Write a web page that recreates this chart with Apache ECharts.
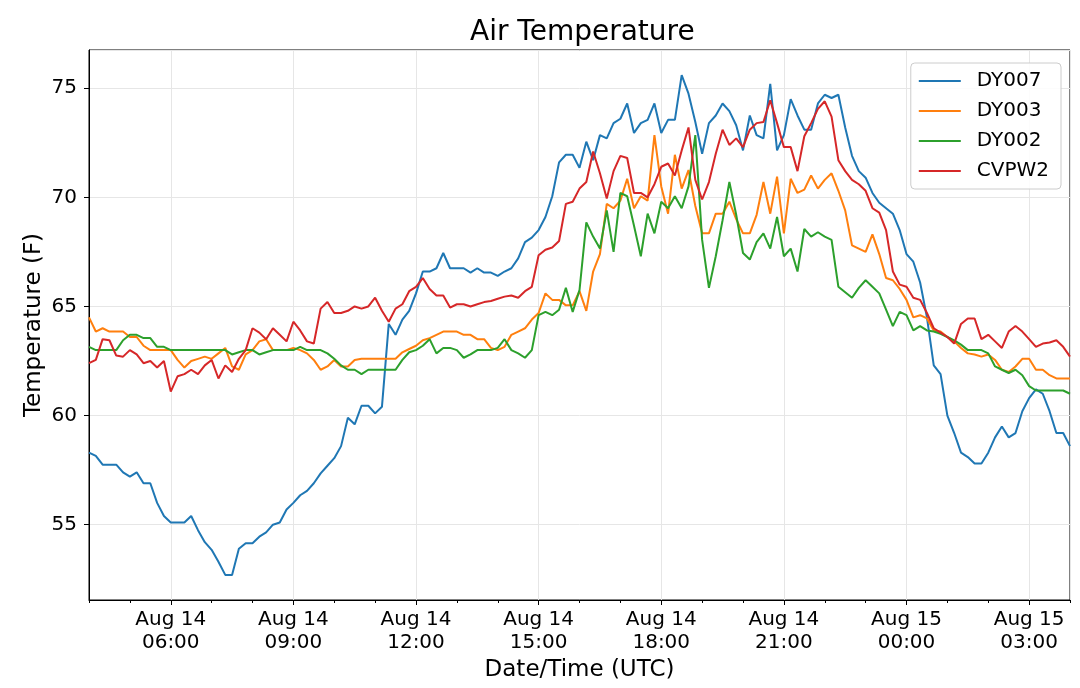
<!DOCTYPE html>
<html>

<head>
    <meta charset="utf-8">
    <title>Air Temperature</title>
    <script src="https://cdn.jsdelivr.net/npm/echarts/dist/echarts.min.js"></script>
    <style>
        html,
        body {
            margin: 0;
            padding: 0;
            background: #fff;
        }

        #main {
            width: 1080px;
            height: 688px;
        }
    </style>
</head>

<body>
    <div id="main"></div>
</body>
<script type="text/javascript">
    // 10 minute readings, Aug 14 04:00 UTC -> Aug 15 04:00 UTC
    var startHour = 4;
    var stepHours = 1 / 6;

    var stations = ['DY007', 'DY003', 'DY002', 'CVPW2'];
    var colors = ['#1f77b4', '#ff7f0e', '#2ca02c', '#d62728'];

    var dy007 = [
        58.3, 58.15, 57.75, 57.75, 57.75, 57.4, 57.2, 57.4, 56.9, 56.9, 56.0, 55.4,
        55.1, 55.1, 55.1, 55.4, 54.75, 54.2, 53.85, 53.3, 52.7, 52.7, 53.9, 54.15,
        54.15, 54.45, 54.65, 55.0, 55.1, 55.7, 56.0, 56.35, 56.55, 56.9, 57.35, 57.7,
        58.05, 58.6, 59.9, 59.6, 60.45, 60.45, 60.1, 60.4, 64.2, 63.7, 64.4, 64.8,
        65.6, 66.6, 66.6, 66.75, 67.45, 66.75, 66.75, 66.75, 66.55, 66.75, 66.55, 66.55,
        66.4, 66.6, 66.75, 67.2, 67.95, 68.15, 68.5, 69.1, 70.05, 71.6, 71.95, 71.95,
        71.35, 72.55, 71.7, 72.85, 72.7, 73.4, 73.6, 74.3, 72.95, 73.4, 73.55, 74.3,
        72.95, 73.55, 73.55, 75.6, 74.75, 73.45, 72.0, 73.4, 73.75, 74.3, 73.95, 73.3,
        72.15, 73.75, 72.85, 72.7, 75.2, 72.15, 72.85, 74.5, 73.75, 73.1, 73.1, 74.3,
        74.7, 74.55, 74.7, 73.2, 71.9, 71.2, 70.9, 70.2, 69.75, 69.5, 69.25, 68.5,
        67.4, 67.05, 66.1, 64.5, 62.3, 61.9, 60.0, 59.2, 58.3, 58.1, 57.8, 57.8,
        58.3, 59.0, 59.5, 59.0, 59.2, 60.2, 60.8, 61.2, 61.0, 60.2, 59.2, 59.2,
        58.6
    ];

    var dy003 = [
        64.5, 63.85, 64.0, 63.85, 63.85, 63.85, 63.6, 63.6, 63.2, 63.0, 63.0, 63.0,
        63.0, 62.55, 62.2, 62.5, 62.6, 62.7, 62.6, 62.85, 63.1, 62.25, 62.1, 62.8,
        63.0, 63.4, 63.5, 63.0, 63.0, 63.0, 63.1, 63.0, 62.85, 62.55, 62.1, 62.25,
        62.55, 62.25, 62.25, 62.55, 62.6, 62.6, 62.6, 62.6, 62.6, 62.6, 62.9, 63.05,
        63.2, 63.45, 63.55, 63.7, 63.85, 63.85, 63.85, 63.7, 63.7, 63.5, 63.5, 63.1,
        63.0, 63.15, 63.7, 63.85, 64.0, 64.4, 64.7, 65.6, 65.3, 65.3, 65.05, 65.05,
        65.7, 64.8, 66.6, 67.4, 69.7, 69.5, 69.85, 70.85, 69.5, 70.05, 69.85, 72.85,
        70.5, 69.25, 71.95, 70.4, 71.25, 69.6, 68.35, 68.35, 69.25, 69.25, 69.8, 69.0,
        68.35, 68.35, 69.2, 70.7, 69.25, 70.95, 68.35, 70.85, 70.2, 70.35, 71.0, 70.4,
        70.8, 71.1, 70.3, 69.4, 67.8, 67.65, 67.5, 68.3, 67.4, 66.3, 66.2, 65.8,
        65.3, 64.5, 64.6, 64.45, 63.9, 63.85, 63.6, 63.4, 63.1, 62.85, 62.8, 62.7,
        62.8, 62.55, 62.1, 62.0, 62.25, 62.6, 62.6, 62.1, 62.1, 61.85, 61.7, 61.7,
        61.7
    ];

    var dy002 = [
        63.15, 63.0, 63.0, 63.0, 63.0, 63.45, 63.7, 63.7, 63.55, 63.55, 63.15, 63.15,
        63.0, 63.0, 63.0, 63.0, 63.0, 63.0, 63.0, 63.0, 63.0, 62.8, 62.9, 63.0,
        63.0, 62.8, 62.9, 63.0, 63.0, 63.0, 63.0, 63.15, 63.0, 63.0, 63.0, 62.85,
        62.6, 62.3, 62.1, 62.1, 61.9, 62.1, 62.1, 62.1, 62.1, 62.1, 62.55, 62.9,
        63.0, 63.2, 63.5, 62.85, 63.1, 63.1, 63.0, 62.65, 62.8, 63.0, 63.0, 63.0,
        63.1, 63.5, 63.0, 62.85, 62.65, 63.0, 64.6, 64.75, 64.6, 64.85, 65.85, 64.75,
        65.75, 68.85, 68.2, 67.65, 69.4, 67.5, 70.2, 70.05, 68.7, 67.3, 69.25, 68.35,
        69.8, 69.5, 70.05, 69.5, 70.5, 72.85, 68.05, 65.85, 67.3, 68.95, 70.7, 69.2,
        67.45, 67.15, 67.95, 68.35, 67.65, 69.1, 67.3, 67.65, 66.6, 68.55, 68.2, 68.4,
        68.2, 68.05, 65.9, 65.65, 65.4, 65.85, 66.2, 65.9, 65.6, 64.85, 64.1, 64.75,
        64.6, 63.9, 64.1, 63.9, 63.85, 63.75, 63.6, 63.45, 63.25, 63.0, 63.0, 63.0,
        62.85, 62.25, 62.1, 61.95, 62.1, 61.85, 61.35, 61.15, 61.15, 61.15, 61.15, 61.15,
        61.0
    ];

    var cvpw2 = [
        62.4, 62.55, 63.5, 63.45, 62.75, 62.7, 63.0, 62.8, 62.4, 62.5, 62.2, 62.5,
        61.1, 61.8, 61.9, 62.1, 61.9, 62.3, 62.55, 61.7, 62.3, 62.0, 62.6, 63.0,
        64.0, 63.8, 63.5, 64.0, 63.7, 63.4, 64.3, 63.9, 63.4, 63.3, 64.9, 65.2,
        64.7, 64.7, 64.8, 65.0, 64.9, 65.0, 65.4, 64.8, 64.3, 64.9, 65.1, 65.7,
        65.9, 66.3, 65.8, 65.5, 65.5, 64.95, 65.1, 65.1, 65.0, 65.1, 65.2, 65.25,
        65.35, 65.45, 65.5, 65.4, 65.7, 65.9, 67.35, 67.6, 67.7, 68.0, 69.7, 69.8,
        70.4, 70.7, 72.1, 71.1, 69.95, 71.2, 71.9, 71.8, 70.2, 70.2, 70.0, 70.6,
        71.4, 71.55, 71.0, 72.15, 73.2, 70.8, 69.9, 70.7, 72.0, 73.1, 72.4, 72.7,
        72.3, 73.1, 73.4, 73.45, 74.45, 73.4, 72.3, 72.3, 71.2, 72.8, 73.4, 74.05,
        74.4, 73.7, 71.7, 71.2, 70.8, 70.6, 70.3, 69.5, 69.3, 68.5, 66.6, 66.0,
        65.9, 65.4, 65.3, 64.7, 64.0, 63.8, 63.6, 63.3, 64.2, 64.45, 64.45, 63.5,
        63.7, 63.4, 63.1, 63.85, 64.1, 63.85, 63.5, 63.15, 63.3, 63.35, 63.45, 63.15,
        62.7
    ];

    var values = [dy007, dy003, dy002, cvpw2];

    function toPoints(vals) {
        return vals.map(function(v, i) {
            return [startHour + i * stepHours, v];
        });
    }

    function pad(n) {
        return (n < 10 ? '0' : '') + n;
    }

    var font = 'DejaVu Sans';

    var chart = echarts.init(document.getElementById('main'));
    chart.setOption({
        animation: false,
        backgroundColor: '#fff',
        title: {
            text: 'Air Temperature',
            left: 465,
            top: 14,
            textStyle: {
                fontFamily: font,
                fontSize: 28,
                fontWeight: 'normal',
                color: '#000'
            }
        },
        grid: {
            left: 89,
            right: 10,
            top: 50,
            bottom: 88,
            show: true,
            borderColor: '#000',
            borderWidth: 1
        },
        legend: {
            data: stations,
            orient: 'vertical',
            right: 19,
            top: 63,
            // plain line as the key, no marker
            icon: 'path://M0,0L42,0L42,2L0,2Z',
            itemWidth: 42,
            itemHeight: 14,
            itemGap: 10,
            padding: [8, 12, 8, 8],
            borderColor: '#cccccc',
            borderWidth: 1,
            borderRadius: 4,
            backgroundColor: 'rgba(255,255,255,0.85)',
            textStyle: {
                fontFamily: font,
                fontSize: 20,
                color: '#000',
                padding: [0, 0, 0, 11]
            }
        },
        xAxis: [{
            type: 'value',
            position: 'bottom',
            min: 4,
            max: 28,
            minInterval: 3,
            maxInterval: 3,
            name: 'Date/Time (UTC)',
            nameLocation: 'middle',
            nameGap: 54,
            nameTextStyle: {
                fontFamily: font,
                fontSize: 23,
                color: '#000'
            },
            axisLine: {
                lineStyle: {
                    color: '#000',
                    width: 1
                }
            },
            axisTick: {
                length: 5,
                lineStyle: {
                    color: '#000'
                }
            },
            axisLabel: {
                showMinLabel: false,
                showMaxLabel: false,
                margin: 8,
                fontFamily: font,
                fontSize: 20,
                lineHeight: 23,
                color: '#000',
                formatter: function(v) {
                    var day = v < 24 ? 14 : 15;
                    return 'Aug ' + day + '\n' + pad(Math.round(v) % 24) + ':00';
                }
            },
            splitLine: {
                show: true,
                lineStyle: {
                    color: '#e6e6e6',
                    width: 1
                }
            }
        }, {
            // hourly minor ticks
            type: 'value',
            position: 'bottom',
            min: 4,
            max: 28,
            interval: 1,
            axisLine: {
                show: false
            },
            axisTick: {
                length: 3,
                lineStyle: {
                    color: '#000'
                }
            },
            axisLabel: {
                show: false
            },
            splitLine: {
                show: false
            }
        }],
        yAxis: {
            type: 'value',
            min: 51.55,
            max: 76.75,
            minInterval: 5,
            maxInterval: 5,
            name: 'Temperature (F)',
            nameLocation: 'middle',
            nameGap: 43,
            nameMoveOverlap: false,
            nameTextStyle: {
                fontFamily: font,
                fontSize: 23,
                color: '#000'
            },
            axisLine: {
                show: true,
                lineStyle: {
                    color: '#000',
                    width: 1
                }
            },
            axisTick: {
                show: true,
                length: 5,
                lineStyle: {
                    color: '#000'
                }
            },
            axisLabel: {
                showMinLabel: false,
                showMaxLabel: false,
                margin: 12,
                fontFamily: font,
                fontSize: 20,
                color: '#000'
            },
            splitLine: {
                show: true,
                lineStyle: {
                    color: '#e6e6e6',
                    width: 1
                }
            }
        },
        series: stations.map(function(name, k) {
            return {
                name: name,
                type: 'line',
                xAxisIndex: 0,
                symbol: 'none',
                color: colors[k],
                lineStyle: {
                    width: 2,
                    color: colors[k]
                },
                data: toPoints(values[k])
            };
        })
    });
</script>

</html>
